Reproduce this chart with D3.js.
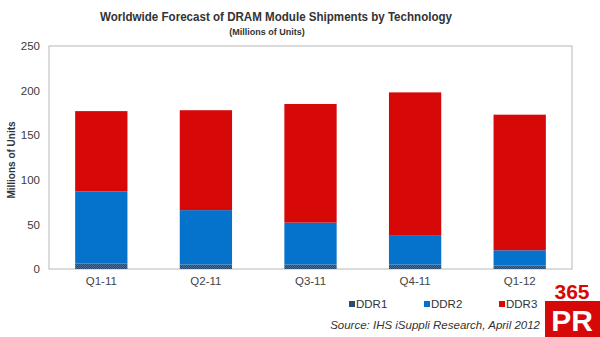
<!DOCTYPE html>
<html><head><meta charset="utf-8">
<script src="https://cdn.jsdelivr.net/npm/d3@7"></script>
<style>body{margin:0;background:#fff}svg{display:block}</style>
</head><body>
<svg id="c" width="600" height="337"></svg>
<script>
const categories = ["Q1-11","Q2-11","Q3-11","Q4-11","Q1-12"];
const ddr1 = [6, 5, 5, 5, 4];
const ddr2 = [81, 61, 47, 33, 17];
const ddr3 = [90, 112, 133, 160, 152];
const seriesNames = ["DDR1","DDR2","DDR3"];
const yTicks = [0, 50, 100, 150, 200, 250];

const svg = d3.select("#c");
const F = "Liberation Sans, Arial, sans-serif";
const m = {l:49, r:28, t:46, b:68};
const W = 600, H = 337;
const x = d3.scaleBand().domain(categories).range([m.l, W - m.r]).paddingInner(0.5).paddingOuter(0.25);
const y = d3.scaleLinear().domain([0, 250]).range([H - m.b, m.t]);

const defs = svg.append("defs");
const pat = defs.append("pattern").attr("id","p1").attr("width",2).attr("height",2).attr("patternUnits","userSpaceOnUse");
pat.append("rect").attr("width",2).attr("height",2).attr("fill","#27476c");
pat.append("rect").attr("width",1).attr("height",1).attr("fill","#4d6f95");
pat.append("rect").attr("x",1).attr("y",1).attr("width",1).attr("height",1).attr("fill","#4d6f95");

const colors = {DDR1:"url(#p1)", DDR2:"#0573cc", DDR3:"#d60808"};
const legendColors = {DDR1:"#2c4b70", DDR2:"#0573cc", DDR3:"#d60808"};

// frame
svg.append("rect").attr("x", m.l).attr("y", m.t).attr("width", W - m.r - m.l).attr("height", H - m.b - m.t)
  .attr("fill","none").attr("stroke","#b8b8b8").attr("stroke-width",1);

const data = categories.map((c,i)=>({cat:c, DDR1:ddr1[i], DDR2:ddr2[i], DDR3:ddr3[i]}));
const stack = d3.stack().keys(seriesNames)(data);
svg.append("g").selectAll("g").data(stack).join("g")
  .attr("fill", d => colors[d.key])
  .selectAll("rect").data(d => d).join("rect")
  .attr("x", d => x(d.data.cat)).attr("width", x.bandwidth())
  .attr("y", d => y(d[1])).attr("height", d => y(d[0]) - y(d[1]));

// y axis
const ya = svg.append("g").attr("transform", `translate(${m.l},0)`)
  .call(d3.axisLeft(y).tickValues(yTicks).tickSize(0).tickPadding(9));
ya.select(".domain").remove();
ya.selectAll("text").attr("font-family", F).attr("font-size", 11.5).attr("fill", "#3a3a3a");

// x axis
const xa = svg.append("g").attr("transform", `translate(0,${H - m.b})`)
  .call(d3.axisBottom(x).tickSize(0).tickPadding(8));
xa.select(".domain").remove();
xa.selectAll("text").attr("font-family", F).attr("font-size", 11.5).attr("fill", "#444");

// titles
svg.append("text").attr("x", 276).attr("y", 21).attr("text-anchor","middle")
  .attr("font-family", F).attr("font-weight","bold").attr("font-size", 12.5).attr("fill","#333")
  .attr("textLength", 352).attr("lengthAdjust","spacingAndGlyphs")
  .text("Worldwide Forecast of DRAM Module  Shipments by Technology");
svg.append("text").attr("x", 267).attr("y", 35).attr("text-anchor","middle")
  .attr("font-family", F).attr("font-weight","bold").attr("font-size", 9).attr("fill","#333")
  .text("(Millions of Units)");
svg.append("text").attr("transform","translate(15,160) rotate(-90)").attr("text-anchor","middle")
  .attr("font-family", F).attr("font-weight","bold").attr("font-size", 10).attr("fill","#333")
  .text("Millions of Units");

// legend
const lx = [352, 427, 502];
const lg = svg.append("g").selectAll("g").data(seriesNames).join("g")
  .attr("transform", (d,i) => `translate(${lx[i]},304)`);
lg.append("rect").attr("x",-3).attr("y",-3).attr("width",6).attr("height",6).attr("fill", d => legendColors[d]);
lg.append("text").attr("x",4).attr("y",4).attr("font-family", F).attr("font-size", 11.5).attr("fill","#333").text(d => d);

// source
svg.append("text").attr("x", 540).attr("y", 329).attr("text-anchor","end")
  .attr("font-family", F).attr("font-style","italic").attr("font-size", 11.5).attr("fill","#333")
  .text("Source: IHS iSuppli Research, April 2012");

// logo
const lo = svg.append("g").attr("transform","translate(545,281)");
lo.append("rect").attr("x",0).attr("y",0).attr("width",55).attr("height",56).attr("fill","#fff");
lo.append("text").attr("x",27).attr("y",18).attr("text-anchor","middle").attr("font-family",F)
  .attr("font-weight","bold").attr("font-size",21).attr("fill","#d60808").text("365");
lo.append("rect").attr("x",0).attr("y",20).attr("width",55).attr("height",36).attr("fill","#d60808");
lo.append("text").attr("x",27).attr("y",50).attr("text-anchor","middle").attr("font-family",F)
  .attr("font-weight","bold").attr("font-size",30).attr("fill","#fff").text("PR");
</script>
</body></html>
